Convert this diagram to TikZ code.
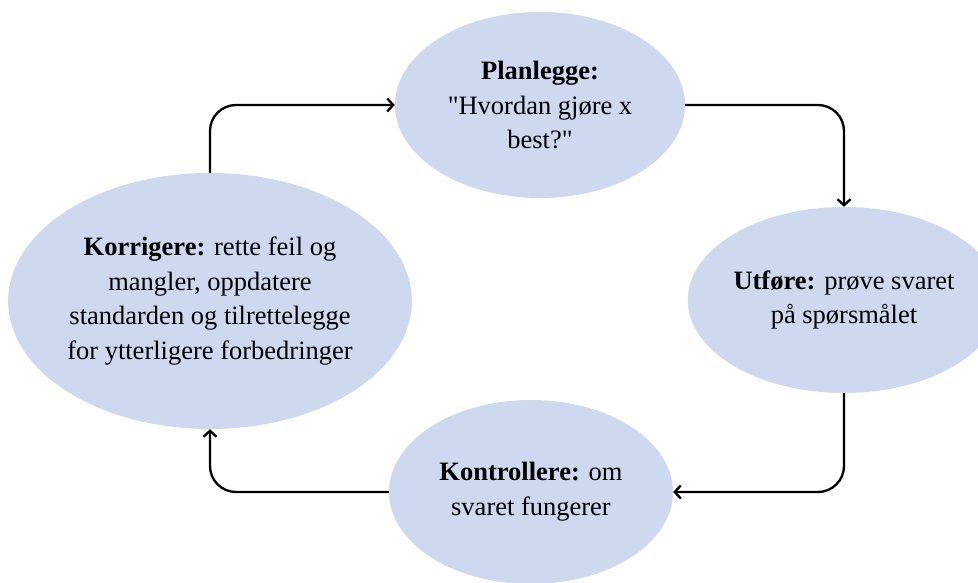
\documentclass[tikz,border=0pt]{standalone}
\usepackage{fontspec}
\setmainfont{Liberation Serif}[Ligatures=TeXOff]
\usetikzlibrary{shapes.geometric,arrows.meta}
\definecolor{bubble}{RGB}{206,217,239}
\tikzset{
  bubble/.style={ellipse, fill=bubble, draw=none, inner sep=0pt, align=center,
    font=\fontsize{26.5pt}{34.7pt}\selectfont},
  flow/.style={line width=2.3pt, rounded corners=26pt,
    -{Straight Barb[length=6pt,width=13pt,line width=2.3pt]}}
}
\begin{document}
\begin{tikzpicture}[x=1pt,y=-1pt]
\clip (0,0) rectangle (978,583);
\fill[white] (0,0) rectangle (978,583);
\node[bubble, minimum width=290pt, minimum height=186pt] (plan) at (540,105)
  {\textbf{Planlegge:}\\"Hvordan gjøre x\\best?"};
\node[bubble, minimum width=282pt, minimum height=186pt] (utf) at (844,300)
  {\textbf{Utføre:} prøve svaret\\på spørsmålet};
\node[bubble, minimum width=284pt, minimum height=184pt] (kon) at (531,492)
  {\textbf{Kontrollere:} om\\svaret fungerer};
\node[bubble, minimum width=400pt, minimum height=256pt] (kor) at (210,301)
  {\textbf{Korrigere:} rette feil og\\mangler, oppdatere\\standarden og tilrettelegge\\for ytterligere forbedringer};
\draw[flow] (kor.north) |- (plan.west);
\draw[flow] (plan.east) -| (utf.north);
\draw[flow] (utf.south) |- (kon.east);
\draw[flow] (kon.west) -| (kor.south);
\end{tikzpicture}
\end{document}
